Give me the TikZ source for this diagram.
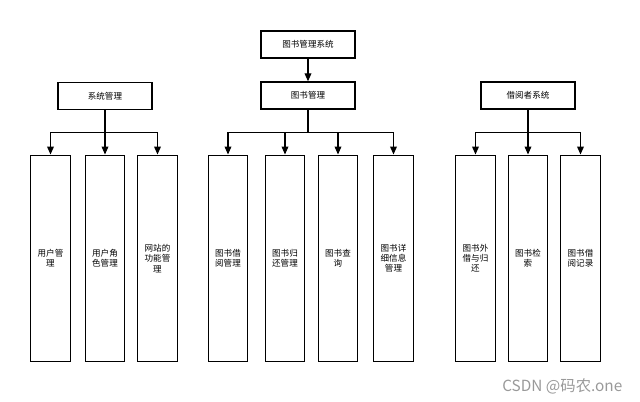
\documentclass[tikz,border=0pt]{standalone}
\usepackage{fontspec}
\setmainfont{Noto Sans CJK SC}
\usetikzlibrary{arrows.meta}

\begin{document}
\begin{tikzpicture}[x=0.75pt,y=-0.75pt,
	every node/.style={font=\fontsize{6.4}{7.6}\selectfont},
	headbox/.style={draw,line width=0.9pt,minimum width=70.5pt,minimum height=20.3pt,inner sep=0pt},
	leafbox/.style={draw,line width=0.9pt,minimum width=29.6pt,minimum height=155pt,inner sep=0pt,align=center},
	arr/.style={line width=0.9pt,-{Triangle[length=6pt,width=5pt]}}]
	\useasboundingbox (0,0) rectangle (640,402);
	% top level
	\node[headbox] (root) at (308,44.5) {图书管理系统};
	\node[headbox] (book) at (308,95.5) {图书管理};
	\node[headbox] (sysm) at (105,96) {系统管理};
	\node[headbox] (reader) at (528,95.5) {借阅者系统};
	\draw[arr] (root) -- (book);
	% system management
	\node[leafbox] (user) at (50.5,258.5) {用户管\\理};
	\node[leafbox] (role) at (105,258.5) {用户角\\色管理};
	\node[leafbox] (site) at (157.5,258.5) {网站的\\功能管\\理};
	\draw[arr] (sysm.south) -- ++(0,22.5) -| (user.north);
	\draw[arr] (sysm.south) -- (role.north);
	\draw[arr] (sysm.south) -- ++(0,22.5) -| (site.north);
	% book management
	\node[leafbox] (lend) at (228,258.5) {图书借\\阅管理};
	\node[leafbox] (back) at (285,258.5) {图书归\\还管理};
	\node[leafbox] (query) at (338,258.5) {图书查\\询};
	\node[leafbox] (info) at (393.5,258.5) {图书详\\细信息\\管理};
	\draw[arr] (book.south) -- ++(0,23) -| (lend.north);
	\draw[arr] (book.south) -- ++(0,23) -| (back.north);
	\draw[arr] (book.south) -- ++(0,23) -| (query.north);
	\draw[arr] (book.south) -- ++(0,23) -| (info.north);
	% reader system
	\node[leafbox] (out) at (475.5,258.5) {图书外\\借与归\\还};
	\node[leafbox] (search) at (528,258.5) {图书检\\索};
	\node[leafbox] (record) at (580.5,258.5) {图书借\\阅记录};
	\draw[arr] (reader.south) -- ++(0,23) -| (out.north);
	\draw[arr] (reader.south) -- (search.north);
	\draw[arr] (reader.south) -- ++(0,23) -| (record.north);
	\node[font=\fontsize{11.5}{13}\selectfont,text=black!40,anchor=east] (mark) at (627,386) {CSDN @码农.one};
\end{tikzpicture}
\end{document}
